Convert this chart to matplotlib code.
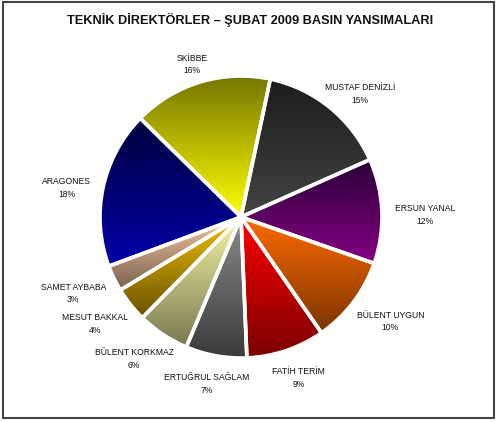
import numpy as np
import matplotlib
matplotlib.use("Agg")
import matplotlib.pyplot as plt
from matplotlib.colors import LinearSegmentedColormap
from matplotlib.patches import Rectangle

names = ["MUSTAF DENİZLİ", "ERSUN YANAL", "BÜLENT UYGUN", "FATİH TERİM",
         "ERTUĞRUL SAĞLAM", "BÜLENT KORKMAZ", "MESUT BAKKAL", "SAMET AYBABA",
         "ARAGONES", "SKİBBE"]
shares = [15, 12, 10, 9, 7, 6, 4, 3, 18, 16]
top_colors = ["#1c1c1c", "#2a0036", "#ff6a00", "#ff0000", "#8c8c8c",
              "#f6f6a6", "#f2c200", "#f6caa2", "#00003c", "#767600"]
bottom_colors = ["#444444", "#840084", "#7a3400", "#7a0000", "#3a3a3a",
                 "#787850", "#685000", "#786050", "#0000aa", "#ffff00"]
title = "TEKNİK DİREKTÖRLER – ŞUBAT 2009 BASIN YANSIMALARI"

plt.rcParams['font.family'] = ['Liberation Sans', 'DejaVu Sans']

W, H = 500, 422
fig = plt.figure(figsize=(W / 100, H / 100), dpi=100)
fig.patch.set_facecolor("white")
ax = fig.add_axes([0, 0, 1, 1])

R = 141.0
cx, cy = 241.0, H - 217.0

wedges, _ = ax.pie(shares, startangle=78, counterclock=False, radius=1,
                   wedgeprops=dict(facecolor="none", edgecolor="white",
                                   linewidth=2.6, zorder=3))

ax.set_xlim(-cx / R, (W - cx) / R)
ax.set_ylim(-cy / R, (H - cy) / R)
ax.set_aspect("auto")
ax.axis("off")

renderer = fig.canvas.get_renderer()
grad = np.linspace(0, 1, 256).reshape(-1, 1)
gap = 1.09
drop = 5 / R
for w, tc, bc, name, v in zip(wedges, top_colors, bottom_colors, names, shares):
    ext = w.get_path().get_extents()
    cmap = LinearSegmentedColormap.from_list("g", [bc, tc])
    im = ax.imshow(grad, extent=[ext.x0, ext.x1, ext.y0, ext.y1], origin="lower",
                   cmap=cmap, aspect="auto", interpolation="bilinear", zorder=2)
    im.set_clip_path(w)
    mid = np.deg2rad((w.theta1 + w.theta2) / 2)
    t = ax.text(0, 0, f"{name}\n{v}%", ha="center", va="center",
                fontsize=6.2, color="#111111", linespacing=1.5, zorder=4)
    bb = t.get_window_extent(renderer)
    hw, hh = bb.width / 2 / R, bb.height / 2 / R
    x = gap * np.cos(mid) + hw * np.cos(mid)
    y = gap * np.sin(mid) + hh * np.sin(mid) - drop
    t.set_position((x, y))

fig.text(0.5, 1 - 20 / H, title, ha="center", va="center", fontsize=9.2,
         fontweight="bold", color="#111111")

fig.patches.append(Rectangle((3 / W, 4 / H), 491 / W, 416 / H,
                             transform=fig.transFigure, fill=False,
                             edgecolor="#444444", linewidth=1.5))

fig.savefig("out.png", dpi=100, facecolor="white")
